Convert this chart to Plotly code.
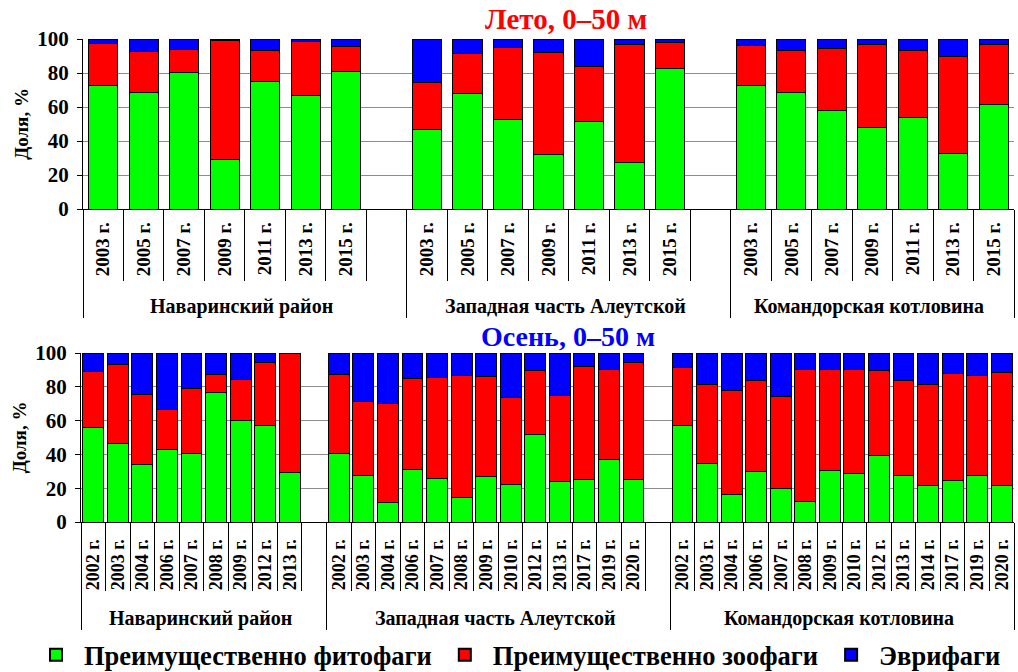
import plotly.graph_objects as go

FONT = "Liberation Serif, Times New Roman, serif"
GREEN = "#00ff00"
RED = "#ff0000"
BLUE = "#0000ff"

series_names = ["Преимущественно фитофаги", "Преимущественно зоофаги", "Эврифаги"]
regions = ["Наваринский район", "Западная часть Алеутской", "Командорская котловина"]

# ---- Summer (Лето, 0–50 м) ----
summer_nav_years = ["2003 г.", "2005 г.", "2007 г.", "2009 г.", "2011 г.", "2013 г.", "2015 г."]
summer_nav_phyto = [72.4, 68.8, 80.2, 29.4, 74.9, 66.5, 81.0]
summer_nav_zoo = [25.2, 23.9, 13.9, 70.0, 18.6, 32.3, 14.7]
summer_nav_eury = [2.4, 7.3, 5.9, 0.6, 6.5, 1.2, 4.3]

summer_zap_years = ["2003 г.", "2005 г.", "2007 г.", "2009 г.", "2011 г.", "2013 г.", "2015 г."]
summer_zap_phyto = [46.9, 68.2, 52.7, 31.8, 51.2, 27.3, 82.9]
summer_zap_zoo = [27.8, 23.0, 42.4, 60.2, 32.9, 69.6, 15.3]
summer_zap_eury = [25.3, 8.8, 4.9, 8.0, 15.9, 3.1, 1.8]

summer_kom_years = ["2003 г.", "2005 г.", "2007 г.", "2009 г.", "2011 г.", "2013 г.", "2015 г."]
summer_kom_phyto = [72.7, 68.8, 58.0, 47.8, 54.1, 32.9, 61.2]
summer_kom_zoo = [23.2, 24.5, 36.7, 48.7, 39.0, 56.7, 35.3]
summer_kom_eury = [4.1, 6.7, 5.3, 3.5, 6.9, 10.4, 3.5]

# ---- Autumn (Осень, 0–50 м) ----
autumn_nav_years = ["2002 г.", "2003 г.", "2004 г.", "2006 г.", "2007 г.", "2008 г.", "2009 г.", "2012 г.", "2013 г."]
autumn_nav_phyto = [55.9, 46.4, 34.2, 42.9, 40.7, 76.7, 60.1, 56.9, 29.4]
autumn_nav_zoo = [33.2, 46.9, 41.1, 23.5, 38.2, 10.3, 24.5, 37.6, 70.2]
autumn_nav_eury = [10.9, 6.7, 24.7, 33.6, 21.1, 13.0, 15.4, 5.5, 0.4]

autumn_zap_years = ["2002 г.", "2003 г.", "2004 г.", "2006 г.", "2007 г.", "2008 г.", "2009 г.", "2010 г.",
                    "2012 г.", "2013 г.", "2017 г.", "2019 г.", "2020 г."]
autumn_zap_phyto = [40.3, 27.7, 11.3, 30.8, 25.5, 14.4, 26.9, 21.9, 52.0, 23.7, 25.1, 37.2, 25.1]
autumn_zap_zoo = [47.1, 43.6, 58.9, 54.2, 60.1, 72.4, 59.3, 51.6, 37.7, 51.0, 66.8, 52.9, 69.0]
autumn_zap_eury = [12.6, 28.7, 29.8, 15.0, 14.4, 13.2, 13.8, 26.5, 10.3, 25.3, 8.1, 9.9, 5.9]

autumn_kom_years = ["2002 г.", "2003 г.", "2004 г.", "2006 г.", "2007 г.", "2008 г.", "2009 г.", "2010 г.",
                    "2012 г.", "2013 г.", "2014 г.", "2017 г.", "2019 г.", "2020 г."]
autumn_kom_phyto = [56.9, 34.6, 16.4, 29.8, 19.8, 12.1, 30.4, 28.7, 39.3, 27.7, 21.5, 24.5, 27.5, 21.5]
autumn_kom_zoo = [34.4, 46.8, 61.5, 54.0, 54.5, 78.0, 59.7, 61.8, 50.4, 56.1, 59.9, 63.4, 59.1, 67.0]
autumn_kom_eury = [8.7, 18.6, 22.1, 16.2, 25.7, 9.9, 9.9, 9.5, 10.3, 16.2, 18.6, 12.1, 13.4, 11.5]

y_ticks = [0, 20, 40, 60, 80, 100]
BLANK = " "


def build(groups, outer_labels, pad):
    """Collect (outer, inner, values) points; order them by year first so that
    plotly's multicategory ordering keeps years chronological inside each group
    and the spacer category last."""
    pts = []
    for gi, (years, ph, zo, eu, blank) in enumerate(groups):
        for i, yr in enumerate(years):
            pts.append((yr, gi, outer_labels[gi], yr + pad, ph[i], zo[i], eu[i]))
        if blank:
            pts.append(("~", gi, outer_labels[gi], BLANK, None, None, None))
    pts.sort(key=lambda t: (t[0], t[1]))
    outer = [p[2] for p in pts]
    inner = [p[3] for p in pts]
    return [outer, inner], [[p[4] for p in pts], [p[5] for p in pts], [p[6] for p in pts]]


group_labels = ["<span style='font-size:20px'>%s</span>" % r for r in regions]

x_sum, vals_sum = build([
    (summer_nav_years, summer_nav_phyto, summer_nav_zoo, summer_nav_eury, True),
    (summer_zap_years, summer_zap_phyto, summer_zap_zoo, summer_zap_eury, True),
    (summer_kom_years, summer_kom_phyto, summer_kom_zoo, summer_kom_eury, False),
], group_labels, "\u00a0")

x_aut, vals_aut = build([
    (autumn_nav_years, autumn_nav_phyto, autumn_nav_zoo, autumn_nav_eury, True),
    (autumn_zap_years, autumn_zap_phyto, autumn_zap_zoo, autumn_zap_eury, True),
    (autumn_kom_years, autumn_kom_phyto, autumn_kom_zoo, autumn_kom_eury, False),
], group_labels, "\u00a0\u00a0")

colors = [GREEN, RED, BLUE]
fig = go.Figure()
for k in range(3):
    fig.add_trace(go.Bar(
        x=x_sum, y=vals_sum[k], name=series_names[k], legendgroup=series_names[k],
        marker=dict(color=colors[k], line=dict(color="black", width=1)),
        width=0.72, xaxis="x", yaxis="y", showlegend=True, hoverinfo="y+name",
    ))
for k in range(3):
    fig.add_trace(go.Bar(
        x=x_aut, y=vals_aut[k], name=series_names[k], legendgroup=series_names[k],
        marker=dict(color=colors[k], line=dict(color="black", width=1)),
        width=0.85, xaxis="x2", yaxis="y2", showlegend=False, hoverinfo="y+name",
    ))

W, H = 1018, 672


def px_x(v):
    return v / W


def px_y(v):
    return 1 - v / H


tickfont_top = dict(family=FONT, size=19, color="black", weight="bold")
tickfont_bot = dict(family=FONT, size=18, color="black", weight="bold")
yfont = dict(family=FONT, size=21, color="black", weight="bold")

common_x = dict(type="multicategory", tickangle=-90, showline=True, linecolor="black", linewidth=1,
                ticks="outside", tickson="boundaries", tickcolor="black", showgrid=False,
                showdividers=True, dividercolor="black", dividerwidth=1, automargin=False)
common_y = dict(range=[0, 100], tickvals=y_ticks, showline=True, linecolor="black", linewidth=1,
                ticks="outside", ticklen=5, tickcolor="black", showgrid=True, gridcolor="#8c8c8c",
                gridwidth=1, zeroline=False, tickfont=yfont, automargin=False, ticklabelstandoff=4,
                title=dict(text="Доля, %", font=dict(family=FONT, size=19, color="black", weight="bold"),
                           standoff=3))

fig.update_layout(
    width=W, height=H,
    margin=dict(l=0, r=0, t=0, b=0, autoexpand=False),
    paper_bgcolor="white", plot_bgcolor="white",
    barmode="stack",
    font=dict(family=FONT, color="black"),
    xaxis=dict(domain=[px_x(83), px_x(1014)], anchor="y", ticklen=71, tickfont=tickfont_top, **common_x),
    yaxis=dict(domain=[px_y(209), px_y(39)], anchor="x", **common_y),
    xaxis2=dict(domain=[px_x(81), px_x(1014)], anchor="y2", ticklen=68, tickfont=tickfont_bot, **common_x),
    yaxis2=dict(domain=[px_y(522), px_y(353)], anchor="x2", **common_y),
    legend=dict(orientation="h", xref="container", yref="container",
                x=px_x(517), xanchor="center", y=px_y(655), yanchor="middle",
                font=dict(family=FONT, size=26.5, color="black", weight="bold"),
                itemwidth=46, itemsizing="constant", traceorder="normal", bgcolor="rgba(0,0,0,0)"),
    annotations=[
        dict(text="Лето, 0–50 м", x=px_x(566), y=px_y(19), xref="paper", yref="paper",
             xanchor="center", yanchor="middle", showarrow=False,
             font=dict(family=FONT, size=29, color=RED, weight="bold")),
        dict(text="Осень, 0–50 м", x=px_x(568), y=px_y(336), xref="paper", yref="paper",
             xanchor="center", yanchor="middle", showarrow=False,
             font=dict(family=FONT, size=28, color=BLUE, weight="bold")),
    ],
)

fig.write_html("out.html", config={"displayModeBar": False},
               post_script="document.body.style.margin='0px';")
